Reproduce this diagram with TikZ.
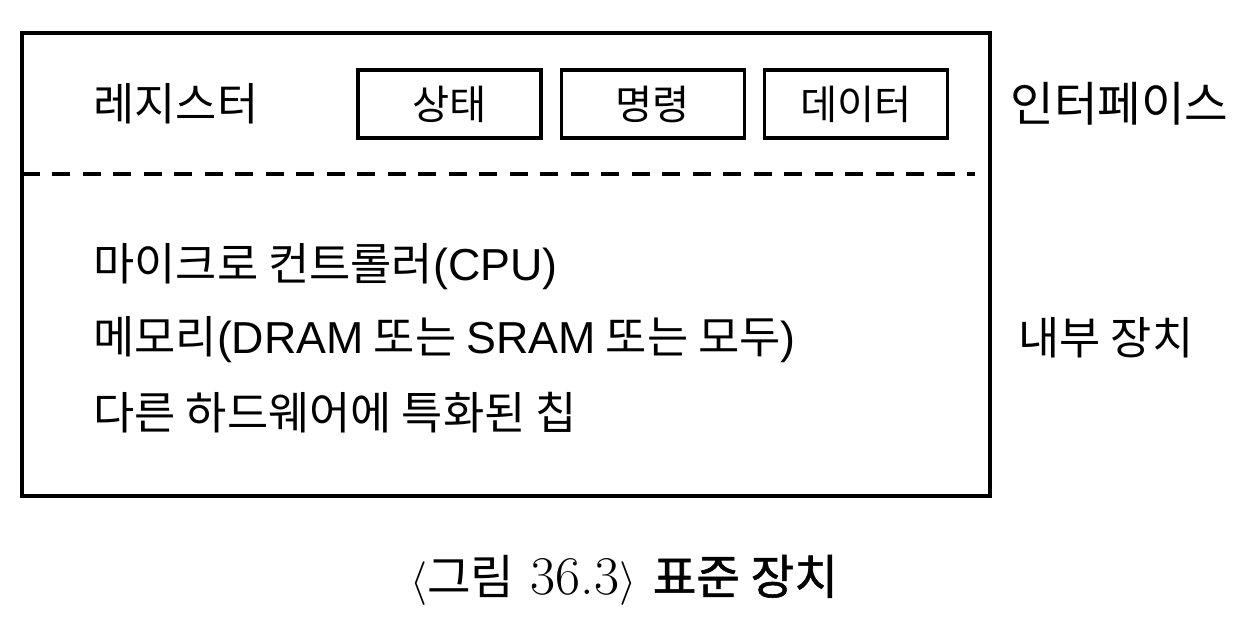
\documentclass[tikz,border=0pt]{standalone}
\usepackage{fontspec}
\newfontfamily\kr{Noto Sans CJK KR}
\newfontfamily\krheavy{Noto Sans CJK KR}[FakeBold=1.2]
\newfontfamily\ar{Liberation Sans}
\usetikzlibrary{positioning}

\begin{document}
\begin{tikzpicture}[
      x=0.02cm, y=-0.02cm,
      node distance=0.34cm,
      frame/.style={rectangle, draw, line width=1.9pt, minimum width=19.36cm, minimum height=9.26cm},
      regbox/.style={rectangle, draw, line width=1.9pt, minimum width=3.66cm, minimum height=1.36cm, font=\kr\fontsize{23}{27}\selectfont},
      plain/.style={anchor=west, inner sep=0pt, font=\kr\fontsize{25.5}{30}\selectfont},
      sepline/.style={line width=2pt, dash pattern=on 0.36cm off 0.25cm}
    ]
    \useasboundingbox (0,0) rectangle (1254,628);

    % device outline and interface/internal split
    \node[frame] (device) at (506,264.5) {};
    \coordinate (sepl) at (22,174);
    \coordinate (sepr) at (975,174);
    \draw[sepline] (sepl) -- (sepr);

    % interface registers
    \node[plain] (registers) at (93,104) {레지스터};
    \node[regbox] (status) at (449.5,104) {상태};
    \node[regbox, right=of status] (command) {명령};
    \node[regbox, right=of command] (data) {데이터};

    % internals
    \node[plain] (cpu) at (93,267) {마이크로 컨트롤러{\ar(CPU)}};
    \node[plain] (memory) at (93,340) {메모리{\ar(DRAM} 또는 {\ar SRAM} 또는 모두{\ar)}};
    \node[plain] (chip) at (93,413) {다른 하드웨어에 특화된 칩};

    % side labels
    \node[plain, font=\kr\fontsize{27}{32}\selectfont] (interface) at (1010,104) {인터페이스};
    \node[plain] (internal) at (1018,338) {내부 장치};

    % caption
    \node[font=\fontsize{31}{35}\selectfont] (caption) at (624,580)
      {$\langle${\kr\fontsize{27}{32}\selectfont 그림} 36.3$\rangle$ {\krheavy\fontsize{27}{32}\selectfont 표준 장치}};
  \end{tikzpicture}
\end{document}
